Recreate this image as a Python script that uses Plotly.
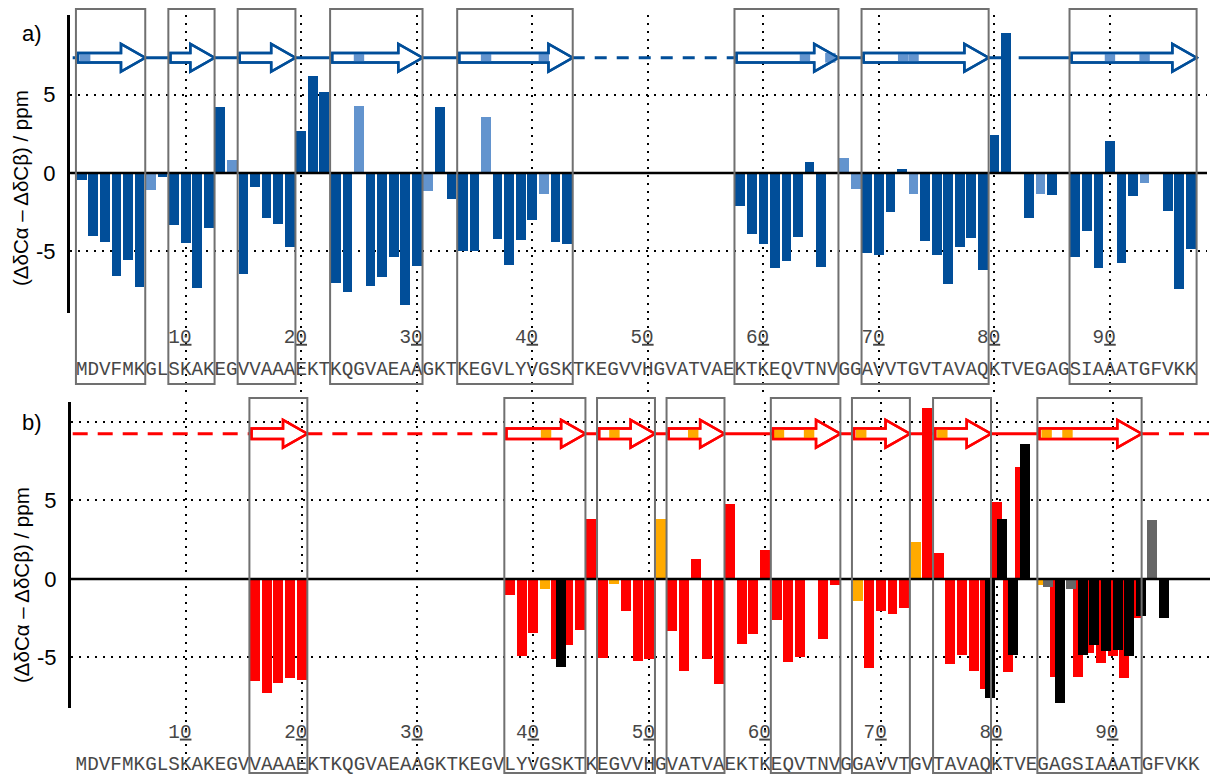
import plotly.graph_objects as go

W, H = 1210, 775

sequence = "MDVFMKGLSKAKEGVVAAAEKTKQGVAEAAGKTKEGVLYVGSKTKEGVVHGVATVAEKTKEQVTNVGGAVVTGVTAVAQKTVEGAGSIAAATGFVKK"
tick_residues = [10, 20, 30, 40, 50, 60, 70, 80, 90]

# ---------------- panel a ----------------
a_res = [1, 2, 3, 4, 5, 6, 7, 8, 9, 10, 11, 12, 13, 14, 15, 16, 17, 18, 19, 20,
         21, 22, 23, 24, 25, 26, 27, 28, 29, 30, 31, 32, 33, 34, 35, 36, 37, 38, 39, 40,
         41, 42, 43, 58, 59, 60, 61, 62, 63, 64, 65, 67, 68, 69, 70, 71, 72, 73, 74, 75,
         76, 77, 78, 79, 80, 81, 83, 84, 85, 87, 88, 89, 90, 91, 92, 93, 95, 96, 97]
a_val = [-0.43, -4.0, -4.4, -6.58, -5.56, -7.28, -1.09, -0.28, -3.32, -4.47, -7.32, -3.51, 4.19, 0.81, -6.45, -0.89, -2.87, -3.26, -4.73, 2.66,
         6.17, 5.15, -7.02, -7.6, 4.26, -7.22, -6.64, -5.36, -8.41, -5.94, -1.17, 4.19, -1.66, -5.0, -5.0, 3.55, -4.21, -5.87, -4.28, -3.0,
         -1.34, -4.41, -4.53, -2.11, -3.9, -4.53, -6.07, -5.62, -4.09, 0.68, -6.0, 0.94, -1.02, -5.11, -5.24, -2.49, 0.28, -1.34, -4.34, -5.24,
         -7.09, -4.73, -4.15, -6.19, 2.45, 8.96, -2.87, -1.34, -1.4, -5.36, -3.7, -6.07, 2.06, -5.75, -1.47, -0.64, -2.43, -7.41, -4.83]
a_shade = ["d", "d", "d", "d", "d", "d", "l", "d", "d", "d", "d", "d", "d", "l", "d", "d", "d", "d", "d", "d",
           "d", "d", "d", "d", "l", "d", "d", "d", "d", "d", "l", "d", "d", "d", "d", "l", "d", "d", "d", "d",
           "l", "d", "d", "d", "d", "d", "d", "d", "d", "d", "d", "l", "l", "d", "d", "d", "d", "l", "d", "d",
           "d", "d", "d", "d", "d", "d", "d", "l", "d", "d", "d", "d", "d", "d", "d", "l", "d", "d", "d"]
a_strands = [(1, 6), (9, 12), (15, 19), (23, 30), (34, 43), (58, 66), (69, 79), (87, 97)]
a_marks = [1.3, 25, 36, 41, 63.6, 65.8, 72.1, 73.0, 90, 93]
a_links = [(0.22, 43.5, "solid"), (43.5, 57.6, "dash"), (57.5, 80.7, "solid"), (82.1, 97.6, "solid")]

# ---------------- panel b ----------------
b_res = [16, 17, 18, 19, 20, 38, 39, 40, 41, 42, 43, 44, 45, 46, 47, 48, 49, 50, 51, 52,
         53, 54, 55, 56, 57, 58, 59, 60, 61, 62, 63, 65, 66, 67, 68, 69, 70, 71, 72, 73,
         74, 75, 76, 77, 78, 79, 80, 81, 82, 84, 85, 87, 88, 89, 90, 91, 92]
b_val = [-6.48, -7.24, -6.6, -6.26, -6.41, -1.0, -4.88, -3.42, -0.62, -5.05, -4.2, -3.23, 3.82, -5.01, -0.3, -2.02, -5.2, -5.05, 3.82, -3.29,
         -5.84, 1.27, -5.07, -6.67, 4.78, -4.12, -3.48, 1.85, -2.59, -5.27, -4.95, -3.8, -0.36, 0.08, -1.38, -5.65, -2.04, -2.21, -1.83, 2.36,
         10.89, 1.66, -5.41, -4.84, -5.86, -7.0, 4.9, -5.9, 7.13, -0.38, -6.22, -6.22, -4.69, -5.33, -4.9, -6.27, -2.46]
b_shade = ["r", "r", "r", "r", "r", "r", "r", "r", "o", "r", "r", "r", "r", "r", "o", "r", "r", "r", "o", "r",
           "r", "r", "r", "r", "r", "r", "r", "r", "r", "r", "r", "r", "r", "o", "o", "r", "r", "r", "r", "o",
           "r", "r", "r", "r", "r", "r", "r", "r", "r", "o", "r", "r", "r", "r", "r", "r", "r"]
c_res = [42, 79, 80, 81, 82, 84, 85, 86, 87, 88, 89, 90, 91, 92, 93, 94]
c_val = [-5.58, -7.56, 3.82, -4.84, 8.6, -0.49, -7.88, -0.62, -4.84, -4.2, -4.56, -4.48, -4.88, -2.36, 3.76, -2.48]
c_shade = ["k", "k", "k", "k", "k", "g", "k", "g", "k", "k", "k", "k", "k", "k", "g", "k"]
b_strands = [(16, 20), (38, 44), (46, 50), (52, 56), (61, 66), (68, 72), (75, 79), (84, 92)]
b_marks = [41.1, 47, 53.8, 61.2, 63.8, 68.3, 75.3, 84.3, 86.1]
b_links = [(0.25, 15.7, "dash"), (20.5, 37.7, "dash"), (44.5, 92.7, "solid"), (92.7, 98.4, "dash")]

# ---------------- styling ----------------
DARK, LIGHT = "#014E99", "#6394CE"
RED, ORANGE, BLACK, GREY = "#FF0000", "#FFAA00", "#000000", "#666666"
BOX = "#707070"
SANS = "Liberation Sans, Arial, sans-serif"
MONO = "Liberation Mono, Courier New, monospace"
cmap = {"d": DARK, "l": LIGHT, "r": RED, "o": ORANGE, "k": BLACK, "g": GREY}


def px_x(px):
    return px / W


def px_y(py):
    return 1 - py / H


fig = go.Figure()

fig.add_trace(go.Bar(x=a_res, y=a_val, width=0.84, marker=dict(color=[cmap[s] for s in a_shade], line=dict(width=0)),
                     xaxis="x", yaxis="y", showlegend=False))
fig.add_trace(go.Bar(x=b_res, y=b_val, width=0.86, marker=dict(color=[cmap[s] for s in b_shade], line=dict(width=0)),
                     xaxis="x2", yaxis="y2", showlegend=False))
fig.add_trace(go.Bar(x=c_res, y=c_val, width=0.86, offset=-0.01,
                     marker=dict(color=[cmap[s] for s in c_shade], line=dict(width=0)),
                     xaxis="x2", yaxis="y2", showlegend=False))

# sequence and residue numbers
residues = list(range(1, len(sequence) + 1))
num_text = [str(n)[:-1] + "<u>" + str(n)[-1] + "</u>" for n in tick_residues]
num_x = [n - 0.5 for n in tick_residues]
for xa, ya, y_seq, y_num in [("x", "y3", 0.30, 0.73), ("x2", "y4", 0.16, 0.67)]:
    fig.add_trace(go.Scatter(x=residues, y=[y_seq] * len(residues), text=list(sequence), mode="text",
                             textposition="middle center", cliponaxis=False,
                             textfont=dict(family=MONO, size=19.3, color="#474747"),
                             xaxis=xa, yaxis=ya, showlegend=False, hoverinfo="skip"))
    fig.add_trace(go.Scatter(x=num_x, y=[y_num] * len(num_x), text=num_text, mode="text",
                             textposition="middle center", cliponaxis=False,
                             textfont=dict(family=MONO, size=19.3, color="#474747"),
                             xaxis=xa, yaxis=ya, showlegend=False, hoverinfo="skip"))

shapes = []


def add_panel_shapes(xref, yref, strands, marks, links, color, light, yc, bh, hh, box_top, box_bot, dash, x_end):
    # connector lines
    for x0, x1, style in links:
        shapes.append(dict(type="line", xref=xref, yref=yref, x0=x0, x1=x1, y0=yc, y1=yc, layer="above",
                           line=dict(color=color, width=3, dash=dash if style == "dash" else "solid")))
    # arrows
    for s, e in strands:
        xs, xt = s - 0.32, e + 0.5
        xh = xt - 2.1
        path = (f"M{xs},{yc - bh} L{xh},{yc - bh} L{xh},{yc - hh} L{xt},{yc} "
                f"L{xh},{yc + hh} L{xh},{yc + bh} L{xs},{yc + bh} Z")
        shapes.append(dict(type="path", xref=xref, yref=yref, path=path, fillcolor="white",
                           line=dict(color=color, width=2.5), layer="above"))
        for m in marks:
            if s - 0.5 <= m <= e + 0.5:
                shapes.append(dict(type="rect", xref=xref, yref=yref, x0=m - 0.45, x1=m + 0.45,
                                   y0=yc - bh, y1=yc + bh, fillcolor=light, line=dict(width=0), layer="above"))
        shapes.append(dict(type="path", xref=xref, yref=yref, path=path, fillcolor="rgba(0,0,0,0)",
                           line=dict(color=color, width=2.5), layer="above"))
    # zero line
    shapes.append(dict(type="line", xref=xref, yref=yref, x0=0, x1=x_end, y0=0, y1=0, layer="above",
                       line=dict(color="black", width=2.5)))
    # strand boxes
    for s, e in strands:
        shapes.append(dict(type="rect", xref=xref, yref="paper", x0=s - 0.5, x1=e + 0.5,
                           y0=px_y(box_bot), y1=px_y(box_top), fillcolor="rgba(0,0,0,0)",
                           line=dict(color=BOX, width=2), layer="above"))


add_panel_shapes("x", "y", a_strands, a_marks, a_links, DARK, LIGHT, 7.36, 0.31, 0.88, 9, 384, "12px,10px", 98.4)
add_panel_shapes("x2", "y2", b_strands, b_marks, b_links, RED, ORANGE, 9.25, 0.33, 0.88, 398, 773, "15px,10px", 98.4)

grid = dict(showgrid=True, gridcolor="black", gridwidth=1.5, griddash="2px,6px", zeroline=False)
xcommon = dict(tickvals=tick_residues, showticklabels=False, ticks="", showline=False, **grid)
ycommon = dict(showline=True, linecolor="black", linewidth=3, ticks="", ticklabelstandoff=7,
               tickfont=dict(family=SANS, size=22, color="black"), **grid)

label_font = dict(family=SANS, size=22, color="black")
title_font = dict(family=SANS, size=20.5, color="black")
fig.update_layout(
    width=W, height=H, margin=dict(l=0, r=0, t=0, b=0),
    paper_bgcolor="white", plot_bgcolor="white", barmode="overlay", bargap=0,
    xaxis=dict(domain=[px_x(70), px_x(1207)], range=[-0.013, 98.40], anchor="y", **xcommon),
    yaxis=dict(domain=[px_y(313), px_y(15)], range=[-8.94, 10.09], anchor="x",
               tickvals=[-5, 0, 5], ticktext=["-5", "0", "5"], **ycommon),
    xaxis2=dict(domain=[px_x(71), px_x(1210)], range=[0.103, 98.40], anchor="y2", **xcommon),
    yaxis2=dict(domain=[px_y(708.3), px_y(401.7)], range=[-8.24, 11.29], anchor="x2",
                tickvals=[-5, 0, 5, 10], ticktext=["-5", "0", "5", ""], **ycommon),
    yaxis3=dict(domain=[px_y(392), px_y(318)], range=[0, 1], anchor="x", visible=False),
    yaxis4=dict(domain=[px_y(775), px_y(712)], range=[0, 1], anchor="x2", visible=False),
    shapes=shapes,
    annotations=[
        dict(text="a)", x=px_x(32), y=px_y(34), xref="paper", yref="paper", showarrow=False,
             xanchor="center", yanchor="middle", font=label_font),
        dict(text="b)", x=px_x(32), y=px_y(422), xref="paper", yref="paper", showarrow=False,
             xanchor="center", yanchor="middle", font=label_font),
        dict(text="(ΔδCα – ΔδCβ) / ppm", x=px_x(21), y=px_y(188), xref="paper", yref="paper",
             xanchor="center", yanchor="middle",
             showarrow=False, textangle=-90, font=title_font),
        dict(text="(ΔδCα – ΔδCβ) / ppm", x=px_x(21), y=px_y(585), xref="paper", yref="paper",
             xanchor="center", yanchor="middle",
             showarrow=False, textangle=-90, font=title_font),
    ],
)

fig.write_html("out.html")
